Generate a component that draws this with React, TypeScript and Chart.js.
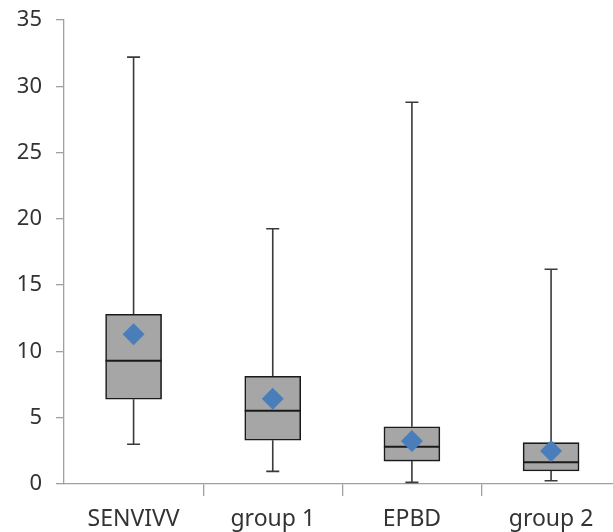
import React, { useEffect, useRef } from "react";
import { Chart, registerables } from "chart.js";

Chart.register(...registerables);

const categories = ["SENVIVV", "group 1", "EPBD", "group 2"];
const minValues = [3.0, 0.95, 0.12, 0.25];
const q1Values = [6.4, 3.3, 1.73, 0.98];
const medianValues = [9.3, 5.53, 2.81, 1.64];
const q3Values = [12.8, 8.12, 4.32, 3.12];
const maxValues = [32.2, 19.25, 28.8, 16.2];
const meanValues = [11.3, 6.43, 3.24, 2.49];
const yTicks = [0, 5, 10, 15, 20, 25, 30, 35];

const FONT = "'Noto Sans', sans-serif";
const TEXT = "#333333";
const AXIS = "#a0a0a0";

const boxPlugin = {
  id: "boxExtras",
  afterDatasetDraw(chart: any, args: any) {
    if (args.meta.type !== "bar") return;
    const ctx = chart.ctx;
    const xs = chart.scales.x;
    const ys = chart.scales.y;
    const bars = args.meta.data;
    ctx.save();
    categories.forEach((_, i) => {
      const cx = xs.getPixelForValue(i);
      const bar = bars[i];
      const half = bar ? bar.width / 2 : 28;
      const cap = 6.5;
      ctx.strokeStyle = "#3a3a3a";
      ctx.lineWidth = 1.6;
      ctx.beginPath();
      ctx.moveTo(cx, ys.getPixelForValue(q3Values[i]));
      ctx.lineTo(cx, ys.getPixelForValue(maxValues[i]));
      ctx.moveTo(cx - cap, ys.getPixelForValue(maxValues[i]));
      ctx.lineTo(cx + cap, ys.getPixelForValue(maxValues[i]));
      ctx.moveTo(cx, ys.getPixelForValue(q1Values[i]));
      ctx.lineTo(cx, ys.getPixelForValue(minValues[i]));
      ctx.moveTo(cx - cap, ys.getPixelForValue(minValues[i]));
      ctx.lineTo(cx + cap, ys.getPixelForValue(minValues[i]));
      ctx.stroke();
      ctx.strokeStyle = "#1a1a1a";
      ctx.lineWidth = 2;
      ctx.beginPath();
      const my = ys.getPixelForValue(medianValues[i]);
      ctx.moveTo(cx - half, my);
      ctx.lineTo(cx + half, my);
      ctx.stroke();
    });
    ctx.restore();
  },
};

export default function App() {
  const ref = useRef<HTMLCanvasElement>(null);
  useEffect(() => {
    if (!ref.current) return;
    const chart = new Chart(ref.current, {
      type: "bar",
      data: {
        datasets: [
          {
            type: "scatter",
            data: meanValues.map((v, i) => ({ x: i, y: v })),
            pointStyle: "rectRot",
            pointRadius: 11,
            pointHoverRadius: 11,
            backgroundColor: "#4a7ebb",
            borderColor: "#4a7ebb",
            borderWidth: 0,
            order: 0,
          } as any,
          {
            type: "bar",
            data: q1Values.map((v, i) => ({ x: i, y: [v, q3Values[i]] })),
            backgroundColor: "#a6a6a6",
            borderColor: "#1a1a1a",
            borderWidth: 1.6,
            borderSkipped: false,
            barThickness: 56,
            order: 1,
          } as any,
        ],
      },
      options: {
        animation: false,
        responsive: true,
        maintainAspectRatio: false,
        layout: { autoPadding: false, padding: { top: 20, right: 0, left: 0, bottom: 0 } },
        plugins: { legend: { display: false }, tooltip: { enabled: false } },
        scales: {
          x: {
            type: "linear",
            min: -0.5,
            max: 3.445,
            offset: false,
            afterBuildTicks: (scale: any) => {
              scale.ticks = [0, 0.5, 1, 1.5, 2, 2.5, 3].map((v) => ({ value: v }));
            },
            afterFit: (scale: any) => {
              scale.height = 48;
              scale.paddingLeft = 0;
              scale.paddingRight = 0;
            },
            ticks: {
              autoSkip: false,
              maxRotation: 0,
              padding: 10,
              color: TEXT,
              font: { family: FONT, size: 23 },
              callback: (v: any) =>
                Number.isInteger(v) ? categories[v] : "",
            },
            grid: {
              offset: false,
              drawOnChartArea: false,
              tickLength: 12,
              color: (c: any) =>
                c.tick && !Number.isInteger(c.tick.value) ? AXIS : "rgba(0,0,0,0)",
              lineWidth: 1.3,
            },
            border: { color: AXIS, width: 1.3 },
          },
          y: {
            min: 0,
            max: 35,
            afterBuildTicks: (scale: any) => {
              scale.ticks = yTicks.map((v) => ({ value: v }));
            },
            afterFit: (scale: any) => {
              scale.width = 64;
              scale.paddingTop = 0;
              scale.paddingBottom = 0;
            },
            ticks: {
              padding: 14,
              color: TEXT,
              font: { family: FONT, size: 22 },
            },
            grid: {
              drawOnChartArea: false,
              tickLength: 8,
              color: AXIS,
              lineWidth: 1.3,
            },
            border: { color: AXIS, width: 1.3 },
          },
        },
      },
      plugins: [boxPlugin],
    });
    return () => chart.destroy();
  }, []);
  return (
    <div style={{ position: "absolute", left: 0, top: 0, width: 613, height: 532 }}>
      <canvas ref={ref} />
    </div>
  );
}
